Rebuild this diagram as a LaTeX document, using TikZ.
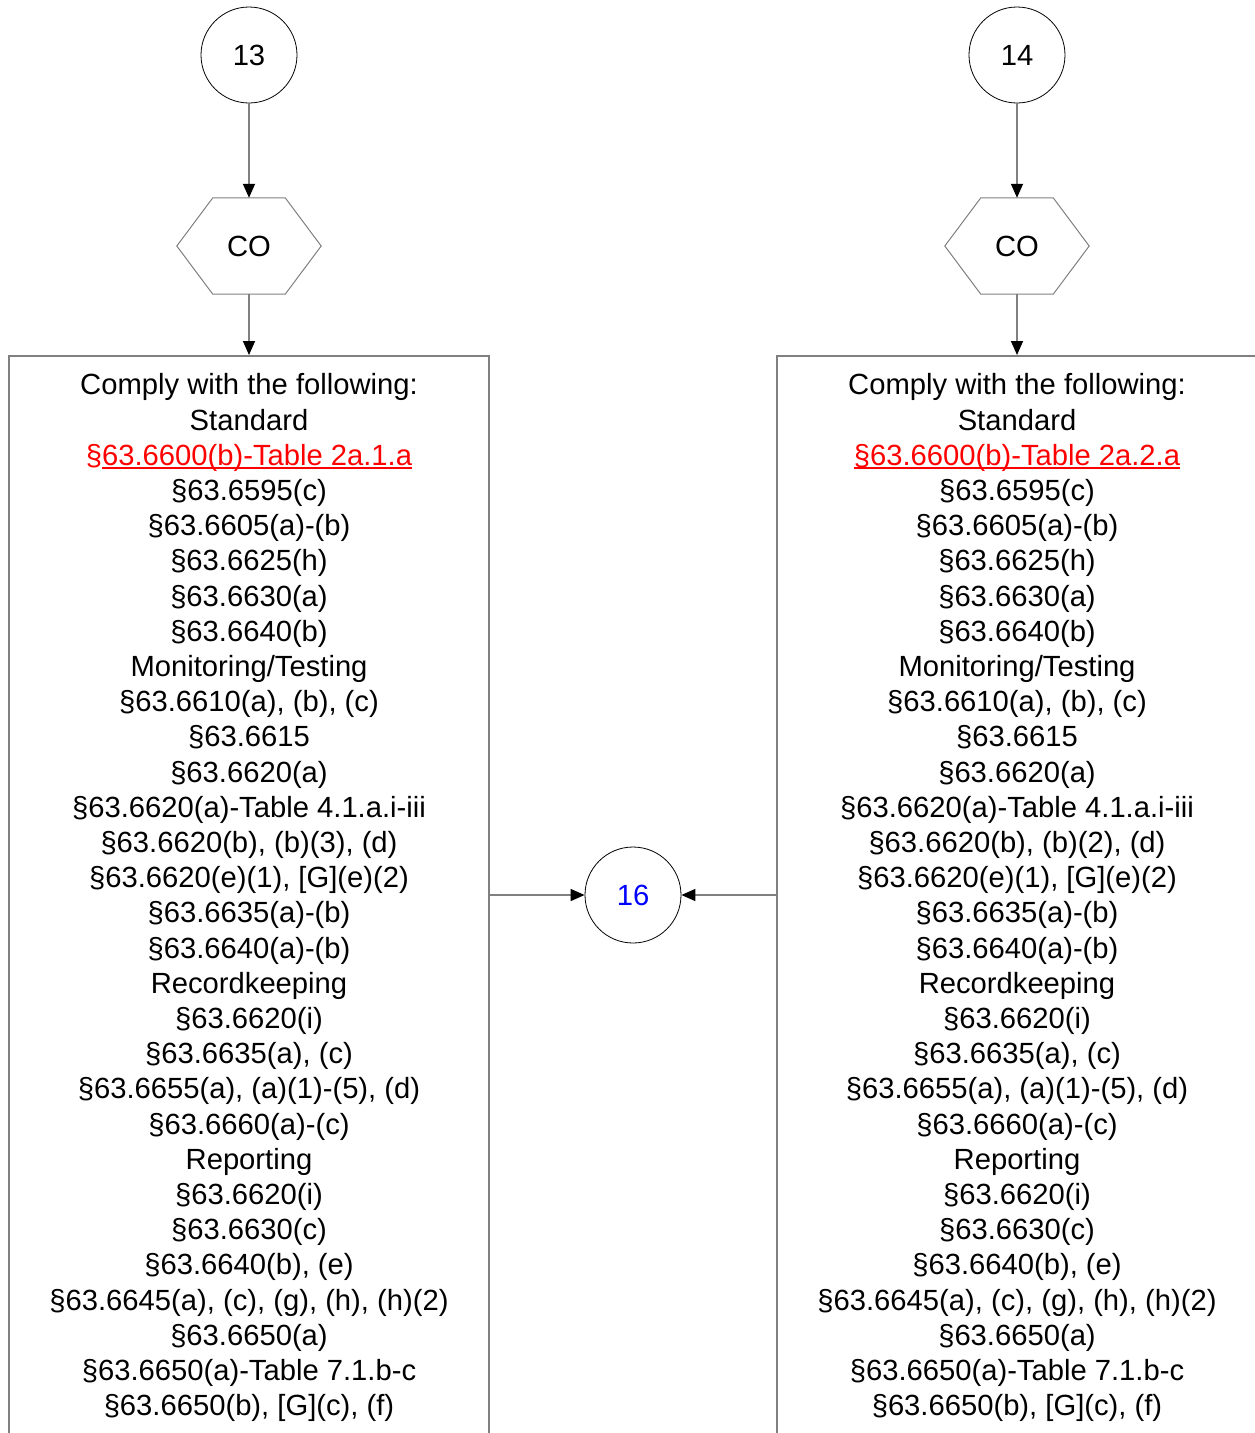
\documentclass[tikz,border=0pt]{standalone}
\usepackage{fontspec}
\setmainfont{Liberation Sans}
\usetikzlibrary{arrows.meta}
\definecolor{linegray}{RGB}{128,128,128}
\definecolor{refred}{RGB}{255,0,0}
\definecolor{refblue}{RGB}{0,0,255}
\newcommand{\redul}[1]{\setbox0\hbox{#1}\rlap{\rule[-3.2pt]{\wd0}{1.3pt}}\box0}
\tikzstyle{link}=[circle,draw=black,line width=0.8pt,minimum size=96pt,inner sep=0pt]
\tikzstyle{hexa}=[minimum width=144pt,minimum height=96pt,inner sep=0pt]
\tikzstyle{rules}=[draw=linegray,line width=1.6pt,minimum width=480pt,minimum height=1084pt,inner sep=0pt,align=center,anchor=north]
\tikzstyle{flow}=[draw=linegray,line width=1.5pt,-{Triangle[length=14pt,width=12pt,color=black]}]

\begin{document}
\begin{tikzpicture}[x=1pt,y=-1pt,font=\fontsize{29.2pt}{35.2pt}\selectfont]
\useasboundingbox (0, 0) rectangle (1255, 1433);
\clip (0, 0) rectangle (1255, 1433);
\node[link] at (249, 55) (c13) {13};
\node[link] at (1017, 55) (c14) {14};
\node[hexa] at (249, 246) (co1) {CO};
\node[hexa] at (1017, 246) (co2) {CO};
\node[link] at (633, 895) (c16) {\textcolor{refblue}{16}};
\node[rules] at (249, 355) (box1) {Comply with the following:\\ Standard\\
  \textcolor{refred}{§\redul{63.6600(b)-Table 2a.1.a}}\\
  §63.6595(c)\\ §63.6605(a)-(b)\\ §63.6625(h)\\ §63.6630(a)\\ §63.6640(b)\\
  Monitoring/Testing\\
  §63.6610(a), (b), (c)\\ §63.6615\\ §63.6620(a)\\ §63.6620(a)-Table 4.1.a.i-iii\\
  §63.6620(b), (b)(3), (d)\\ §63.6620(e)(1), [G](e)(2)\\ §63.6635(a)-(b)\\ §63.6640(a)-(b)\\
  Recordkeeping\\
  §63.6620(i)\\ §63.6635(a), (c)\\ §63.6655(a), (a)(1)-(5), (d)\\ §63.6660(a)-(c)\\
  Reporting\\
  §63.6620(i)\\ §63.6630(c)\\ §63.6640(b), (e)\\ §63.6645(a), (c), (g), (h), (h)(2)\\
  §63.6650(a)\\ §63.6650(a)-Table 7.1.b-c\\ §63.6650(b), [G](c), (f)};
\node[rules] at (1017, 355) (box2) {Comply with the following:\\ Standard\\
  \textcolor{refred}{\redul{§63.6600(b)-Table 2a.2.a}}\\
  §63.6595(c)\\ §63.6605(a)-(b)\\ §63.6625(h)\\ §63.6630(a)\\ §63.6640(b)\\
  Monitoring/Testing\\
  §63.6610(a), (b), (c)\\ §63.6615\\ §63.6620(a)\\ §63.6620(a)-Table 4.1.a.i-iii\\
  §63.6620(b), (b)(2), (d)\\ §63.6620(e)(1), [G](e)(2)\\ §63.6635(a)-(b)\\ §63.6640(a)-(b)\\
  Recordkeeping\\
  §63.6620(i)\\ §63.6635(a), (c)\\ §63.6655(a), (a)(1)-(5), (d)\\ §63.6660(a)-(c)\\
  Reporting\\
  §63.6620(i)\\ §63.6630(c)\\ §63.6640(b), (e)\\ §63.6645(a), (c), (g), (h), (h)(2)\\
  §63.6650(a)\\ §63.6650(a)-Table 7.1.b-c\\ §63.6650(b), [G](c), (f)};
\foreach \h in {co1, co2}
  \draw[linegray, line width=1pt] (\h.west) -- ([xshift=36pt]\h.north west) -- ([xshift=-36pt]\h.north east)
    -- (\h.east) -- ([xshift=-36pt]\h.south east) -- ([xshift=36pt]\h.south west) -- cycle;
\draw[flow] (c13) -- (co1);
\draw[flow] (c14) -- (co2);
\draw[flow] (co1) -- (box1);
\draw[flow] (co2) -- (box2);
\draw[flow] (box1.east |- c16.west) -- (c16);
\draw[flow] (box2.west |- c16.east) -- (c16);
\end{tikzpicture}
\end{document}
